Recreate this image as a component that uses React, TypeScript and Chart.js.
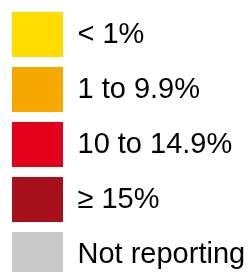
import React, { useEffect, useRef } from "react";
import { Chart, registerables } from "chart.js";

Chart.register(...registerables);

const categories = ["< 1%", "1 to 9.9%", "10 to 14.9%", "\u2265 15%", "Not reporting"];
const colors = ["#FFDD00", "#F5A800", "#E2001A", "#A6111C", "#C8C8C8"];

export default function App() {
  const ref = useRef<HTMLCanvasElement | null>(null);
  useEffect(() => {
    if (!ref.current) return;
    const chart = new Chart(ref.current, {
      type: "bar",
      data: {
        labels: [],
        datasets: categories.map((c, i) => ({
          label: c,
          data: [],
          backgroundColor: colors[i],
          borderWidth: 0,
        })),
      },
      options: {
        responsive: false,
        animation: false,
        events: [],
        layout: { padding: 0 },
        scales: { x: { display: false }, y: { display: false } },
        plugins: {
          tooltip: { enabled: false },
          legend: {
            display: true,
            position: "top",
            align: "start",
            maxHeight: 2000,
            labels: {
              boxWidth: 51,
              boxHeight: 45,
              padding: 10,
              color: "#000000",
              font: { family: "'Liberation Sans', Arial, sans-serif", size: 29 },
              generateLabels: (ch: any) =>
                ch.data.datasets.map((ds: any, i: number) => ({
                  text: ds.label,
                  fillStyle: ds.backgroundColor,
                  strokeStyle: ds.backgroundColor,
                  lineWidth: 0,
                  hidden: false,
                  datasetIndex: i,
                  fontColor: "#000000",
                })),
            },
          },
        },
      },
    });
    return () => chart.destroy();
  }, []);
  return (
    <div style={{ position: "fixed", left: 2, top: 2, width: 246, height: 270 }}>
      <canvas ref={ref} width={246} height={270} style={{ display: "block" }} />
    </div>
  );
}
